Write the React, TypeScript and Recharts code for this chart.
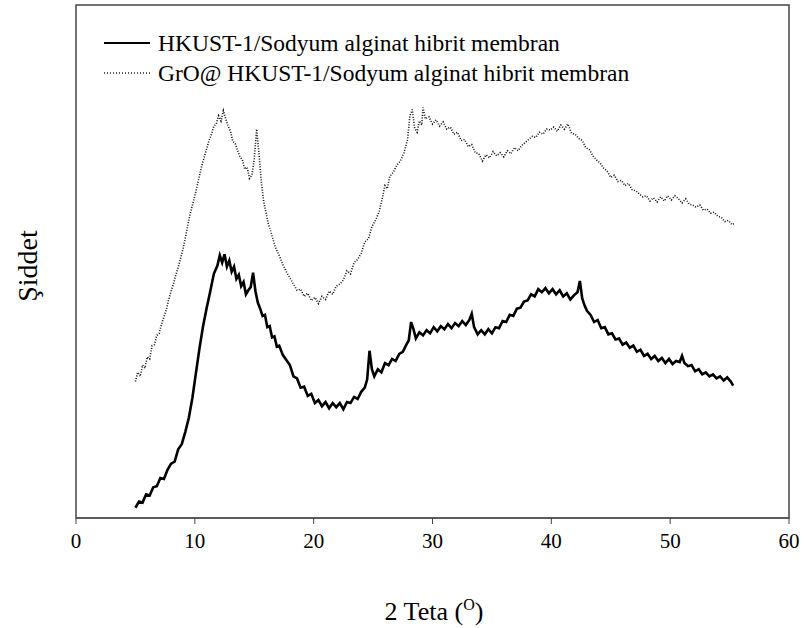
import { Label, Legend, Line, LineChart, ReferenceArea, XAxis, YAxis } from "recharts";

// 2 Teta (deg) / intensity (a.u.)
const hkustPattern: [number, number][] = [
  [5.0, 2.0], [5.3, 3.2], [5.6, 3.0], [5.9, 4.6], [6.2, 4.4], [6.5, 6.0], [6.8, 6.2], [7.1, 7.8],
  [7.4, 7.6], [7.7, 9.4], [8.0, 10.6], [8.3, 11.0], [8.6, 13.4], [8.9, 14.4], [9.2, 16.8], [9.5, 19.6],
  [9.8, 23.5], [10.1, 28.4], [10.4, 33.2], [10.7, 37.5], [11.0, 41.0], [11.3, 44.2], [11.6, 47.6],
  [11.9, 49.2], [12.1, 51.2], [12.3, 49.8], [12.5, 51.4], [12.7, 49.0], [12.9, 50.2], [13.1, 48.0],
  [13.3, 49.0], [13.5, 46.6], [13.7, 47.4], [13.9, 45.2], [14.1, 46.0], [14.3, 43.6], [14.5, 44.4],
  [14.7, 45.0], [14.9, 47.8], [15.1, 44.2], [15.3, 42.0], [15.5, 40.8], [15.7, 39.4], [15.9, 39.6],
  [16.1, 37.2], [16.3, 37.4], [16.5, 35.2], [16.7, 35.4], [16.9, 33.4], [17.1, 33.6], [17.4, 31.8],
  [17.7, 30.8], [18.0, 29.8], [18.3, 27.6], [18.6, 27.2], [18.9, 25.4], [19.2, 25.6], [19.5, 23.8],
  [19.8, 24.2], [20.1, 22.4], [20.4, 23.0], [20.7, 21.8], [21.0, 22.6], [21.3, 21.4], [21.6, 22.4],
  [21.9, 21.6], [22.2, 22.4], [22.5, 21.2], [22.8, 22.6], [23.1, 22.4], [23.4, 23.6], [23.7, 23.2],
  [24.0, 24.6], [24.3, 25.4], [24.5, 27.0], [24.7, 32.6], [24.9, 29.0], [25.1, 27.6], [25.4, 29.0],
  [25.7, 28.4], [26.0, 30.2], [26.3, 29.8], [26.6, 31.0], [26.9, 30.6], [27.2, 32.0], [27.5, 32.4],
  [27.8, 33.8], [28.0, 34.6], [28.2, 38.2], [28.4, 36.8], [28.6, 35.0], [28.9, 36.2], [29.2, 35.6],
  [29.5, 36.6], [29.8, 36.0], [30.1, 37.2], [30.4, 36.4], [30.7, 37.4], [31.0, 36.8], [31.3, 37.8],
  [31.6, 37.0], [31.9, 38.0], [32.2, 37.4], [32.5, 38.4], [32.8, 37.6], [33.1, 38.6], [33.3, 39.8],
  [33.5, 37.2], [33.8, 35.8], [34.1, 36.6], [34.4, 35.8], [34.7, 36.8], [35.0, 36.0], [35.3, 37.2],
  [35.6, 37.0], [35.9, 38.4], [36.2, 38.2], [36.5, 39.6], [36.8, 39.4], [37.1, 40.8], [37.4, 41.0],
  [37.7, 42.2], [38.0, 42.4], [38.3, 43.6], [38.6, 43.2], [38.9, 44.6], [39.2, 44.0], [39.5, 44.8],
  [39.8, 43.8], [40.1, 44.6], [40.4, 43.6], [40.7, 44.4], [41.0, 43.2], [41.3, 43.8], [41.6, 42.6],
  [41.9, 43.4], [42.2, 44.0], [42.4, 46.2], [42.6, 42.8], [42.8, 41.4], [43.0, 40.4], [43.3, 39.6],
  [43.6, 38.2], [43.9, 38.6], [44.2, 37.0], [44.5, 37.2], [44.8, 35.8], [45.1, 36.0], [45.4, 34.8],
  [45.7, 35.0], [46.0, 33.8], [46.3, 34.2], [46.6, 33.2], [46.9, 33.6], [47.2, 32.4], [47.5, 32.8],
  [47.8, 31.6], [48.1, 32.0], [48.4, 31.0], [48.7, 31.6], [49.0, 30.6], [49.3, 31.2], [49.6, 30.2],
  [49.9, 31.0], [50.2, 30.0], [50.5, 30.6], [50.8, 30.4], [51.0, 31.6], [51.2, 30.2], [51.5, 29.6],
  [51.8, 29.8], [52.1, 28.6], [52.4, 29.0], [52.7, 28.0], [53.0, 28.4], [53.3, 27.6], [53.6, 28.0],
  [53.9, 27.2], [54.2, 27.6], [54.5, 26.8], [54.8, 27.4], [55.1, 26.6], [55.3, 25.8],
];

const groPattern: [number, number][] = [
  [5.0, 26.6], [5.2, 28.4], [5.4, 27.6], [5.6, 29.8], [5.8, 29.2], [6.0, 31.4], [6.2, 31.0], [6.4, 33.6],
  [6.6, 33.8], [6.8, 35.6], [7.0, 36.0], [7.2, 37.8], [7.4, 39.2], [7.6, 40.6], [7.8, 42.6], [8.0, 44.2],
  [8.2, 45.6], [8.4, 47.4], [8.6, 48.8], [8.8, 50.6], [9.0, 52.4], [9.2, 54.6], [9.4, 57.0], [9.6, 59.2],
  [9.8, 61.0], [10.0, 62.8], [10.2, 64.8], [10.4, 66.8], [10.6, 68.8], [10.8, 70.4], [11.0, 72.0],
  [11.2, 73.6], [11.4, 74.8], [11.6, 76.4], [11.8, 76.8], [12.0, 78.4], [12.2, 77.4], [12.4, 79.4],
  [12.6, 77.8], [12.8, 76.4], [13.0, 75.4], [13.2, 73.4], [13.4, 73.0], [13.6, 71.6], [13.8, 70.4],
  [14.0, 69.8], [14.2, 68.0], [14.4, 68.4], [14.6, 66.2], [14.8, 66.8], [15.0, 70.0], [15.2, 75.8],
  [15.4, 71.0], [15.6, 65.4], [15.8, 61.6], [16.0, 59.4], [16.2, 57.2], [16.4, 55.8], [16.6, 54.2],
  [16.8, 52.6], [17.1, 51.2], [17.4, 49.4], [17.7, 48.0], [18.0, 46.8], [18.3, 45.6], [18.6, 44.4],
  [18.9, 44.6], [19.2, 43.2], [19.5, 43.8], [19.8, 42.4], [20.1, 43.0], [20.4, 41.8], [20.7, 43.2],
  [21.0, 42.6], [21.3, 44.2], [21.6, 43.6], [21.9, 45.2], [22.2, 45.6], [22.5, 46.4], [22.8, 48.2],
  [23.1, 47.6], [23.4, 49.8], [23.7, 50.4], [24.0, 51.6], [24.3, 53.8], [24.6, 54.4], [24.9, 56.8],
  [25.2, 58.0], [25.5, 59.6], [25.8, 62.6], [26.0, 64.8], [26.2, 64.2], [26.4, 66.6], [26.7, 67.4],
  [27.0, 68.8], [27.3, 69.6], [27.6, 71.2], [27.9, 73.8], [28.1, 78.4], [28.3, 79.6], [28.5, 76.0],
  [28.7, 75.2], [28.9, 77.4], [29.1, 76.6], [29.2, 80.0], [29.4, 77.8], [29.7, 78.2], [30.0, 76.8],
  [30.3, 77.6], [30.6, 76.4], [30.9, 77.2], [31.2, 75.8], [31.5, 76.2], [31.8, 74.8], [32.1, 75.2],
  [32.4, 73.6], [32.7, 73.8], [33.0, 72.4], [33.3, 72.8], [33.6, 71.2], [33.9, 71.0], [34.2, 69.6],
  [34.5, 70.8], [34.8, 70.2], [35.1, 71.4], [35.4, 70.6], [35.7, 71.2], [36.0, 70.4], [36.3, 71.6],
  [36.6, 71.0], [36.9, 72.2], [37.2, 71.6], [37.5, 72.6], [37.8, 73.2], [38.1, 73.8], [38.4, 74.4],
  [38.7, 74.2], [39.0, 75.2], [39.3, 74.8], [39.6, 75.8], [39.9, 75.6], [40.2, 76.2], [40.5, 75.4],
  [40.8, 76.6], [41.1, 75.8], [41.4, 76.8], [41.7, 75.0], [42.0, 74.8], [42.3, 74.0], [42.6, 73.6],
  [42.9, 72.2], [43.2, 71.8], [43.5, 70.6], [43.8, 69.8], [44.1, 69.2], [44.4, 68.2], [44.7, 67.6],
  [45.0, 66.4], [45.3, 66.8], [45.6, 65.6], [45.9, 65.8], [46.2, 64.8], [46.5, 65.2], [46.8, 64.0],
  [47.1, 63.8], [47.4, 63.2], [47.7, 62.6], [48.0, 62.8], [48.3, 61.8], [48.6, 62.4], [48.9, 61.6],
  [49.2, 62.6], [49.5, 61.8], [49.8, 62.8], [50.1, 62.0], [50.4, 62.8], [50.7, 62.2], [51.0, 61.4],
  [51.3, 62.2], [51.6, 61.2], [51.9, 61.0], [52.2, 60.6], [52.5, 61.0], [52.8, 60.0], [53.1, 60.2],
  [53.4, 59.4], [53.7, 59.6], [54.0, 58.8], [54.3, 58.6], [54.6, 57.8], [54.9, 58.0], [55.2, 57.2],
  [55.4, 57.4],
];

const xTicks = [0, 10, 20, 30, 40, 50, 60];
const seriesNames = [
  "HKUST-1/Sodyum alginat hibrit membran",
  "GrO@ HKUST-1/Sodyum alginat hibrit membran",
];

const font = "Liberation Serif, Tinos, Times New Roman, DejaVu Serif, serif";
const toPoints = (rows: [number, number][]) => rows.map(([x, y]) => ({ x, y }));

function LegendBox() {
  return (
    <svg width={580} height={64} style={{ display: "block", fontFamily: font, overflow: "visible" }}>
      <line x1={4} x2={50} y1={10} y2={10} stroke="#000" strokeWidth={2} />
      <text x={58} y={10} dy="0.35em" fontSize={23.5} fill="#000">{seriesNames[0]}</text>
      <line x1={4} x2={50} y1={40} y2={40} stroke="#222" strokeWidth={1.3} strokeDasharray="1 2" />
      <text x={58} y={40} dy="0.35em" fontSize={23.5} fill="#000">{seriesNames[1]}</text>
    </svg>
  );
}

export default function App() {
  return (
    <div style={{ position: "absolute", left: 0, top: 0, fontFamily: font }}>
      <LineChart width={805} height={628} margin={{ top: 5, right: 16, left: 0, bottom: 0 }} style={{ fontFamily: font }}>
        <XAxis
          dataKey="x"
          type="number"
          domain={[0, 60]}
          ticks={xTicks}
          tickSize={6}
          tickMargin={9}
          height={110}
          stroke="#444"
          tick={{ fontSize: 21, fill: "#000", style: { fontFamily: font } }}
          allowDuplicatedCategory={false}
        >
          <Label
            content={() => (
              <text x={434} y={611} textAnchor="middle" dy="0.35em" style={{ fontFamily: font }} fontSize={26} fill="#000">
                2 Teta (<tspan fontSize={16} dy={-10}>O</tspan><tspan dy={10}>)</tspan>
              </text>
            )}
          />
        </XAxis>
        <YAxis type="number" domain={[0, 100]} width={76} tick={false} axisLine={false} tickLine={false}>
          <Label
            content={() => (
              <text x={27} y={266} transform="rotate(-90 27 266)" textAnchor="middle" dy="0.35em" style={{ fontFamily: font }} fontSize={28} fill="#000">
                Şiddet
              </text>
            )}
          />
        </YAxis>
        <ReferenceArea x1={0} x2={60} y1={0} y2={100} fill="none" stroke="#444" strokeWidth={1.5} />
        <Legend
          layout="horizontal"
          verticalAlign="middle"
          align="center"
          wrapperStyle={{ top: 33, left: 100, width: 580, height: 64 }}
          content={() => <LegendBox />}
        />
        <Line
          data={toPoints(groPattern)}
          dataKey="y"
          name={seriesNames[1]}
          type="linear"
          stroke="#111"
          strokeWidth={1.6}
          strokeDasharray="1 1.6"
          dot={false}
          isAnimationActive={false}
        />
        <Line
          data={toPoints(hkustPattern)}
          dataKey="y"
          name={seriesNames[0]}
          type="linear"
          stroke="#000"
          strokeWidth={2.6}
          dot={false}
          isAnimationActive={false}
        />
      </LineChart>
    </div>
  );
}
